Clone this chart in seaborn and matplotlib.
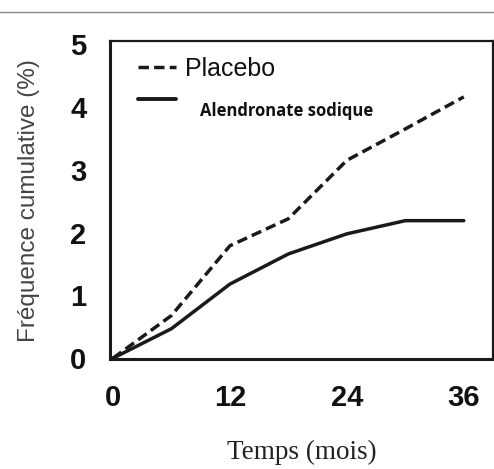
import pandas as pd
import matplotlib.pyplot as plt
import seaborn as sns
from matplotlib.lines import Line2D

sns.set_style("white")
plt.rcParams['font.family'] = ['Liberation Sans', 'DejaVu Sans']

# data
months = [0, 6, 12, 18, 24, 30, 36]
placebo = [0.0, 0.68, 1.79, 2.22, 3.15, 3.65, 4.16]
alendronate = [0.0, 0.47, 1.18, 1.66, 1.98, 2.19, 2.19]
x_ticks = [0, 12, 24, 36]
y_ticks = [0, 1, 2, 3, 4, 5]

df = pd.DataFrame({
    'Temps': months * 2,
    'Freq': placebo + alendronate,
    'Groupe': ['Placebo'] * len(months) + ['Alendronate sodique'] * len(months),
})

fig = plt.figure(figsize=(4.94, 4.69), dpi=100)
ax = fig.add_axes([0.2227, 0.2335, 0.7753, 0.6791])

ink = '#1a1a1a'
sns.lineplot(data=df[df['Groupe'] == 'Placebo'], x='Temps', y='Freq', ax=ax,
             color=ink, linewidth=2.5, linestyle=(0, (3, 1.5)), legend=False)
sns.lineplot(data=df[df['Groupe'] == 'Alendronate sodique'], x='Temps', y='Freq', ax=ax,
             color=ink, linewidth=2.5, legend=False)

ax.set_xlim(-0.3, 39.0)
ax.set_ylim(-0.02, 5.05)
ax.set_xticks(months)
ax.set_xticklabels([str(m) if m in x_ticks else '' for m in months])
ax.set_yticks(y_ticks)
ax.tick_params(axis='both', direction='out', length=8, width=2, color=ink,
               labelsize=21)
ax.tick_params(axis='x', pad=10)
ax.tick_params(axis='y', pad=9)
for lab in ax.get_xticklabels() + ax.get_yticklabels():
    lab.set_fontweight('bold')
    lab.set_color('#111111')

for side in ['left', 'bottom']:
    ax.spines[side].set_linewidth(2.2)
    ax.spines[side].set_color(ink)
for side in ['top', 'right']:
    ax.spines[side].set_linewidth(1.6)
    ax.spines[side].set_color(ink)

ax.set_xlabel('Temps (mois)', family=['Liberation Serif', 'DejaVu Serif'],
              fontsize=19.5, color='#222222', labelpad=20)
ax.set_ylabel('Fréquence cumulative (%)', family=['Liberation Sans', 'DejaVu Sans'],
              fontsize=17.5, color='#444444', labelpad=22)

handles = [Line2D([], [], color=ink, linewidth=2.5, linestyle=(0, (3, 1.5))),
           Line2D([], [], color=ink, linewidth=2.8)]
leg = ax.legend(handles, ['Placebo', ' '], loc='upper left', bbox_to_anchor=(0.015, 1.02),
                frameon=False, fontsize=18, handlelength=1.5, handletextpad=0.35,
                labelspacing=0.32)
for t in leg.get_texts():
    t.set_color('#111111')
ax.text(0.235, 0.78, 'Alendronate sodique', transform=ax.transAxes,
        family=['Open Sans', 'DejaVu Sans'], fontweight='bold', fontsize=12,
        color='#111111', va='center', ha='left',
        bbox=dict(facecolor='white', edgecolor='none', pad=4))

fig.add_artist(Line2D([0, 1], [1 - 12 / 469, 1 - 12 / 469], transform=fig.transFigure,
                      color='#888888', linewidth=1))

plt.savefig('out.png', dpi=100)
